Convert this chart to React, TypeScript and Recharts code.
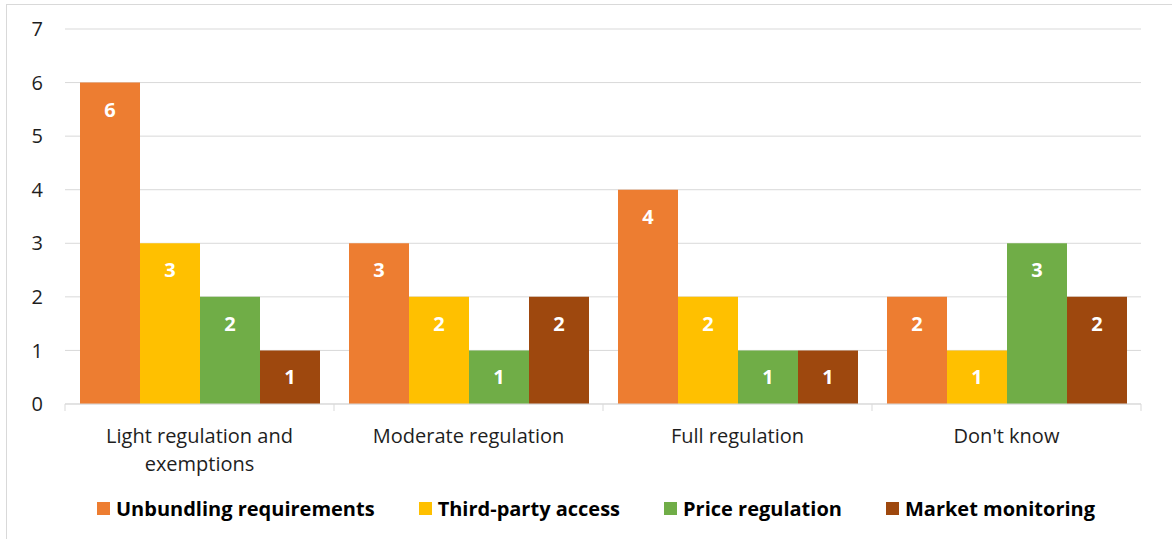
import { BarChart, Bar, XAxis, YAxis, CartesianGrid, LabelList } from 'recharts';

// Answers per regulation option, one array per measure
const categories = [
  'Light regulation and\nexemptions',
  'Moderate regulation',
  'Full regulation',
  "Don't know",
];
const unbundling = [6, 3, 4, 2];
const thirdPartyAccess = [3, 2, 2, 1];
const priceRegulation = [2, 1, 1, 3];
const marketMonitoring = [1, 2, 1, 2];
const yTicks = [0, 1, 2, 3, 4, 5, 6, 7];

const SERIES = [
  { key: 'unbundling', name: 'Unbundling requirements', color: '#ED7D31', values: unbundling },
  { key: 'thirdParty', name: 'Third-party access', color: '#FFC000', values: thirdPartyAccess },
  { key: 'price', name: 'Price regulation', color: '#70AD47', values: priceRegulation },
  { key: 'monitoring', name: 'Market monitoring', color: '#9E480E', values: marketMonitoring },
];

const data = categories.map((category, i) => {
  const row: Record<string, string | number> = { category };
  for (const s of SERIES) row[s.key] = s.values[i];
  return row;
});

const WIDTH = 1172;
const HEIGHT = 539;
const MARGIN = { top: 29, right: 31, left: 0, bottom: 0 };
const Y_AXIS_WIDTH = 65;
const X_AXIS_HEIGHT = 135;
const PLOT_WIDTH = WIDTH - MARGIN.left - MARGIN.right - Y_AXIS_WIDTH;
const BAND = PLOT_WIDTH / categories.length;

const FONT = '"Open Sans", "Noto Sans", sans-serif';
const TEXT = '#1e1e1e';
const GRID = '#d9d9d9';

function CategoryTick({ x, y, payload, index }: any) {
  const lines = String(payload.value).split('\n');
  return (
    <g>
      <line x1={x - BAND / 2} x2={x - BAND / 2} y1={y} y2={y + 7} stroke={GRID} />
      {index === categories.length - 1 && (
        <line x1={x + BAND / 2} x2={x + BAND / 2} y1={y} y2={y + 7} stroke={GRID} />
      )}
      <text x={x} y={y + 39} textAnchor="middle" fill={TEXT} fontSize={20} fontFamily={FONT}>
        {lines.map((line, i) => (
          <tspan key={i} x={x} dy={i === 0 ? 0 : 28}>
            {line}
          </tspan>
        ))}
      </text>
    </g>
  );
}

function ValueLabel({ x, y, width, value }: any) {
  return (
    <text
      x={x + width / 2}
      y={y + 34}
      textAnchor="middle"
      fill="#fff"
      fontSize={20}
      fontWeight="bold"
      fontFamily={FONT}
    >
      {value}
    </text>
  );
}

function ChartLegend() {
  return (
    <div
      style={{
        position: 'absolute',
        left: 0,
        top: 495,
        width: 1192,
        display: 'flex',
        justifyContent: 'center',
        fontFamily: FONT,
        fontSize: 20,
        fontWeight: 'bold',
        color: '#000',
      }}
    >
      {SERIES.map((s, i) => (
        <div
          key={s.key}
          style={{
            display: 'flex',
            alignItems: 'center',
            marginLeft: i === 0 ? 0 : 44,
          }}
        >
          <span style={{ width: 13, height: 13, background: s.color, marginRight: 6 }} />
          <span>{s.name}</span>
        </div>
      ))}
    </div>
  );
}

export default function App() {
  return (
    <div
      style={{
        position: 'absolute',
        left: 0,
        top: 0,
        width: WIDTH,
        height: HEIGHT,
        overflow: 'hidden',
        background: '#fff',
      }}
    >
      <div
        style={{
          position: 'absolute',
          left: 6,
          top: 4,
          width: 1300,
          height: 700,
          border: `1px solid ${GRID}`,
        }}
      />
      <BarChart
        width={WIDTH}
        height={HEIGHT}
        data={data}
        margin={MARGIN}
        barCategoryGap={15}
        barGap={0}
        style={{ position: 'absolute', left: 0, top: 0 }}
      >
        <CartesianGrid stroke={GRID} vertical={false} />
        <XAxis
          dataKey="category"
          height={X_AXIS_HEIGHT}
          axisLine={{ stroke: GRID }}
          tickLine={false}
          tickSize={0}
          tickMargin={0}
          interval={0}
          tick={<CategoryTick />}
        />
        <YAxis
          width={Y_AXIS_WIDTH}
          domain={[0, 7]}
          ticks={yTicks}
          axisLine={false}
          tickLine={false}
          tickSize={0}
          tickMargin={22}
          tick={{ fill: TEXT, fontSize: 20, fontFamily: FONT }}
        />
        {SERIES.map((s) => (
          <Bar key={s.key} dataKey={s.key} name={s.name} fill={s.color} isAnimationActive={false}>
            <LabelList dataKey={s.key} content={<ValueLabel />} />
          </Bar>
        ))}
      </BarChart>
      <ChartLegend />
    </div>
  );
}
